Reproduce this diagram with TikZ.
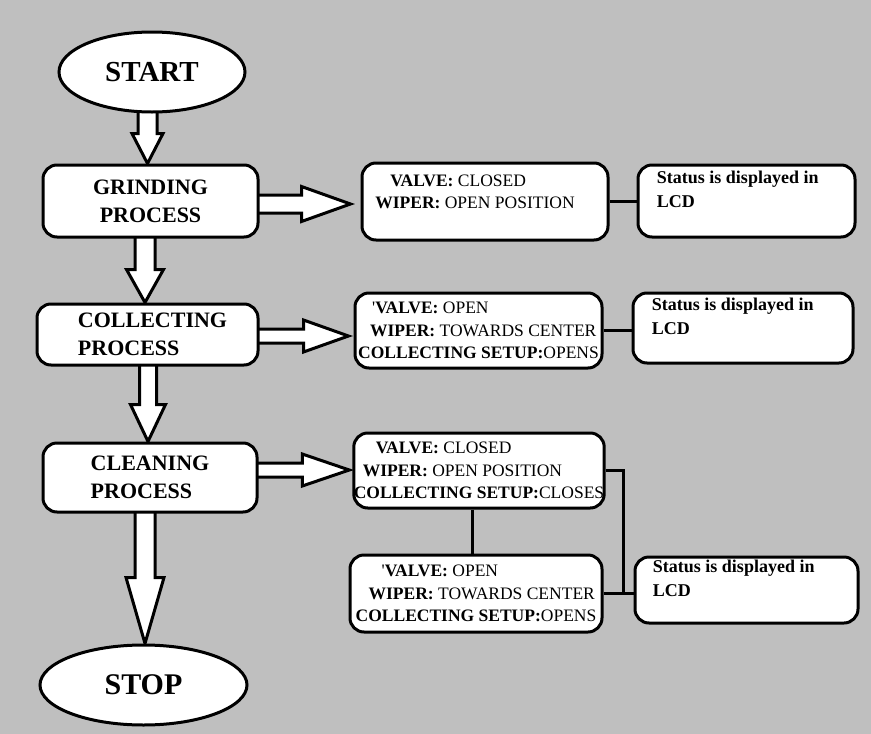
\documentclass[tikz,border=0pt]{standalone}
\usepackage{fontspec}
\setmainfont{Liberation Serif}
\usetikzlibrary{calc,shapes.geometric}
\pgfdeclarelayer{bg}
\pgfdeclarelayer{arrowlayer}
\pgfsetlayers{bg,arrowlayer,main}
\definecolor{panel}{RGB}{191,191,191}
% fixed horizontal space that survives line breaks
\newcommand{\hgap}[1]{\rule{#1}{0pt}}
% hollow block arrow pointing down: x, from, to, shaft half width, head half width, head length
\newcommand{\vblock}[6]{%
  \draw[blockarrow] let \p1=(#2), \p2=(#3) in
    (#1pt-#4pt,\y1+6pt) -- (#1pt-#4pt,\y2+#6pt) -- (#1pt-#5pt,\y2+#6pt) -- (#1pt,\y2)
    -- (#1pt+#5pt,\y2+#6pt) -- (#1pt+#4pt,\y2+#6pt) -- (#1pt+#4pt,\y1+6pt);}
% hollow block arrow pointing right: from, tip, y, shaft half width, head half width, head length
\newcommand{\hblock}[6]{%
  \draw[blockarrow] let \p1=(#1), \p2=(#2) in
    (\x1-6pt,-#3pt+#4pt) -- (\x2-#6pt,-#3pt+#4pt) -- (\x2-#6pt,-#3pt+#5pt) -- (\x2,-#3pt)
    -- (\x2-#6pt,-#3pt-#5pt) -- (\x2-#6pt,-#3pt-#4pt) -- (\x1-6pt,-#3pt-#4pt);}
\tikzset{
  every node/.style={inner sep=0pt},
  terminal/.style={ellipse, draw, line width=3pt, fill=white, font=\bfseries},
  proc/.style={draw, line width=3pt, fill=white, rounded corners=14pt,
    font=\bfseries\fontsize{22}{28}\selectfont},
  state/.style={draw, line width=3pt, fill=white, rounded corners=14pt, align=left,
    font=\fontsize{17.5}{22.5}\selectfont},
  lcd/.style={draw, line width=3pt, fill=white, rounded corners=14pt, align=left,
    font=\bfseries\fontsize{18}{24}\selectfont},
  blockarrow/.style={draw=black, fill=white, line width=3pt, line join=miter},
  link/.style={draw=black, line width=3pt},
}
\begin{document}
\begin{tikzpicture}[x=1pt,y=-1pt]
\useasboundingbox (0,0) rectangle (871,734);
\begin{pgfonlayer}{bg}
  \fill[panel] (0,0) rectangle (871,734);
\end{pgfonlayer}

% main flow
\node[terminal, minimum width=186pt, minimum height=80pt, font=\bfseries\fontsize{29}{34}\selectfont]
  (start) at (152,72) {START};
\node[proc, align=center, minimum width=215pt, minimum height=72pt] (grind) at (150.5,201)
  {GRINDING\\PROCESS};
\node[proc, align=left, minimum width=221pt, minimum height=61pt] (collect) at (147.5,334.5)
  {\hgap{10pt}COLLECTING\\\hgap{10pt}PROCESS};
\node[proc, align=left, minimum width=214pt, minimum height=69pt] (clean) at (150,477.5)
  {CLEANING\\PROCESS};
\node[terminal, minimum width=207pt, minimum height=80pt, font=\bfseries\fontsize{30}{36}\selectfont]
  (stop) at (143.5,685) {STOP};

% valve / wiper states
\node[state, minimum width=246pt, minimum height=77pt] (v1) at (485,201.5)
  {\hgap{15pt}\textbf{VALVE:} CLOSED\\\textbf{WIPER:} OPEN POSITION\hgap{20pt}\\[-3pt]\mbox{}};
\node[state, minimum width=247pt, minimum height=75pt] (v2) at (478.5,330.5)
  {\hgap{14pt}\textquotesingle\textbf{VALVE:} OPEN\\\hgap{12pt}\textbf{WIPER:} TOWARDS CENTER\\\textbf{COLLECTING SETUP:}OPENS};
\node[state, minimum width=248pt, minimum height=75pt] (v3) at (479,470.5)
  {\hgap{22pt}\textbf{VALVE:} CLOSED\\\hgap{9pt}\textbf{WIPER:} OPEN POSITION\\\textbf{COLLECTING SETUP:}CLOSES};
\node[state, minimum width=252pt, minimum height=77pt] (v4) at (476,593.5)
  {\hgap{26pt}\textquotesingle\textbf{VALVE:} OPEN\\\hgap{13pt}\textbf{WIPER:} TOWARDS CENTER\\\textbf{COLLECTING SETUP:}OPENS};

% LCD status
\node[lcd, minimum width=217pt, minimum height=72pt] (s1) at (746.5,201)
  {Status is displayed in\hgap{17.5pt}\\LCD\\\mbox{}};
\node[lcd, minimum width=220pt, minimum height=70pt] (s2) at (743,328)
  {Status is displayed in\hgap{20.5pt}\\LCD\\\mbox{}};
\node[lcd, minimum width=223pt, minimum height=66pt] (s3) at (746.5,590)
  {Status is displayed in\hgap{25.5pt}\\LCD\\\mbox{}};

% tips of the sideways arrows and the junction of the last status line
\path (v1.west) ++(-10,0) coordinate (t1);
\path (v2.west) ++(-5,0) coordinate (t2);
\path (v3.west) ++(-3,0) coordinate (t3);
\path (v4.east) ++(20,0) coordinate (j);

\begin{pgfonlayer}{arrowlayer}
  \vblock{147.5}{start.south}{grind.north}{9.5}{15.5}{30}
  \vblock{145}{grind.south}{collect.north}{10}{18.5}{33}
  \vblock{148}{collect.south}{clean.north}{8.5}{17.5}{37}
  \vblock{145}{clean.south}{stop.north}{10}{19}{66}
  \hblock{grind.east}{t1}{204}{9}{17.5}{49}
  \hblock{collect.east}{t2}{336}{7}{16}{45}
  \hblock{clean.east}{t3}{470}{7}{16}{47}
  % plain connectors
  \draw[link] (v1.east) -- (v1.east -| s1.west);
  \draw[link] (v2.east) -- (v2.east -| s2.west);
  \draw[link] (v4.east) -- (v4.east -| s3.west);
  \draw[link] (v3.east) -| (j);
  \draw[link] ([xshift=-7pt]v3.south) -- ([xshift=-7pt]v3.south |- v4.north);
\end{pgfonlayer}
\end{tikzpicture}
\end{document}
